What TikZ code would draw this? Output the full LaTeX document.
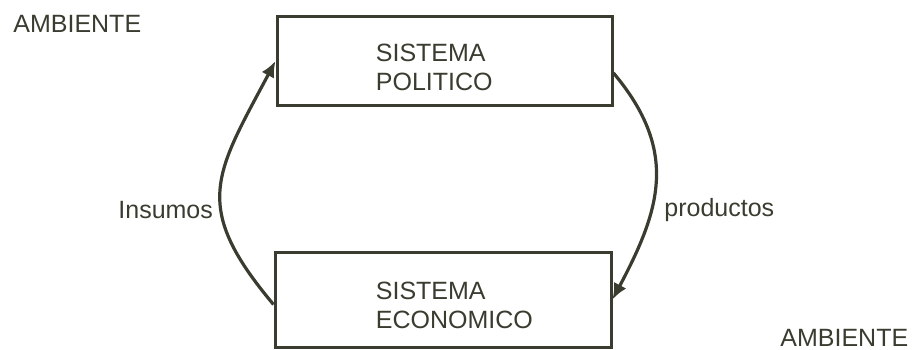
\documentclass[tikz,border=0pt]{standalone}
\usepackage{fontspec}
\setmainfont{Liberation Sans}
\usetikzlibrary{arrows.meta, positioning}
\definecolor{ink}{RGB}{58,60,48}
\tikzstyle{boxSystem} = [rectangle, draw=ink, line width=1.5pt, fill=white]
\tikzstyle{textSystem} = [anchor=north west, inner sep=0pt, align=left, text=ink, font=\fontsize{12.5}{14.5}\selectfont]
\tikzstyle{textPlain} = [inner sep=0pt, text=ink, font=\fontsize{12.5}{14.5}\selectfont]
\tikzstyle{arrow} = [line width=1.6pt, draw=ink, ->, >={Latex[length=8pt,width=7pt]}]

\begin{document}
\begin{tikzpicture}[x=0.5pt, y=0.5pt]
\useasboundingbox (0,0) rectangle (916,349);

\node (politico) [boxSystem, minimum width=167.5pt, minimum height=44pt] at (444.5,288) {};
\node (economico) [boxSystem, minimum width=168pt, minimum height=47.5pt] at (443,49.5) {};

\node (politicoText) [textSystem] at ([xshift=50pt, yshift=-14pt]politico.north west) {SISTEMA\\POLITICO};
\node (economicoText) [textSystem] at ([xshift=51pt, yshift=-15.5pt]economico.north west) {SISTEMA\\ECONOMICO};

\node (ambienteTop) [textPlain, anchor=west] at (13,325.5) {AMBIENTE};
\node (ambienteBottom) [textPlain, anchor=west] at (780,11.5) {AMBIENTE};
\node (insumos) [textPlain, anchor=base west] at (118,131) {Insumos};
\node (productos) [textPlain, anchor=base west] at (664,132.5) {productos};

\draw [arrow] ([yshift=-2.5pt]economico.west) to[out=130, in=242, looseness=1.35] (politico.west);
\draw [arrow] ([yshift=-6pt]politico.east) to[out=-50, in=62, looseness=1.15] (economico.east);

\end{tikzpicture}
\end{document}
